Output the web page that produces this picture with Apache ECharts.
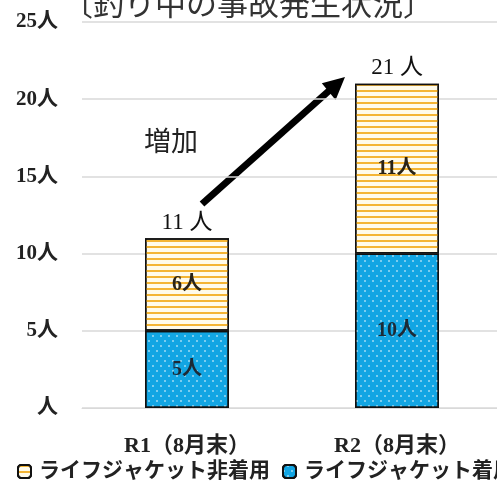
<!DOCTYPE html>
<html>
<head>
<meta charset="utf-8">
<script src="https://cdn.jsdelivr.net/npm/echarts@6/dist/echarts.min.js"></script>
<style>
  html, body { margin: 0; padding: 0; background: #fff; }
  #chart { width: 497px; height: 491px; }
</style>
</head>
<body>
<div id="chart"></div>
<script>
// 釣り中の事故 — ライフジャケット着用/非着用の人数（8月末時点）
const categories = ['R1（8月末）', 'R2（8月末）'];
const notWearing = [6, 11];   // ライフジャケット非着用
const wearing = [5, 10];      // ライフジャケット着用
const yTicks = [0, 5, 10, 15, 20, 25];

const totals = categories.map((_, i) => wearing[i] + notWearing[i]);

const serif = '"Liberation Serif", "DejaVu Serif", "Noto Sans CJK JP", serif';
const gothic = '"Noto Sans CJK JP", sans-serif';

const chart = echarts.init(document.getElementById('chart'), null, { renderer: 'canvas' });

chart.setOption({
  animation: false,
  backgroundColor: '#fff',
  title: {
    text: '〔釣り中の事故発生状況〕',
    left: 57,
    top: -17,
    textStyle: { fontFamily: gothic, fontSize: 31, fontWeight: 'normal', color: '#333' }
  },
  grid: { left: 82, top: 22, width: 420, height: 386, containLabel: false, outerBoundsMode: 'none' },
  legend: {
    data: ['ライフジャケット非着用', 'ライフジャケット着用'],
    left: 17,
    top: 461,
    width: 800,
    padding: 0,
    itemWidth: 13,
    itemHeight: 13,
    itemGap: 12,
    textStyle: { fontFamily: serif, fontSize: 21, fontWeight: 'bold', color: '#222', padding: [0, 0, 0, 3] }
  },
  xAxis: {
    type: 'category',
    data: categories,
    axisLine: { show: true, lineStyle: { color: '#d9d9d9', width: 1 } },
    axisTick: { show: false },
    axisLabel: { margin: 27, fontFamily: serif, fontSize: 22, fontWeight: 'bold', color: '#222' }
  },
  yAxis: {
    type: 'value',
    min: yTicks[0],
    max: yTicks[yTicks.length - 1],
    interval: 5,
    axisLine: { show: false },
    axisTick: { show: false },
    splitLine: { lineStyle: { color: '#d9d9d9', width: 1.5 } },
    axisLabel: {
      margin: 24,
      fontFamily: serif,
      fontSize: 21,
      fontWeight: 'bold',
      color: '#222',
      formatter: v => (v === 0 ? '' : v) + '人'
    }
  },
  series: [
    {
      name: 'ライフジャケット着用',
      type: 'bar',
      stack: 'total',
      barWidth: '40%',
      data: wearing,
      itemStyle: {
        color: '#12a5e3',
        borderColor: '#111',
        borderWidth: 1.5,
        decal: {
          symbol: 'circle',
          symbolSize: 1,
          dashArrayX: [[1.5, 5.5], [0, 3.5, 1.5, 2]],
          dashArrayY: [1.5, 2.5],
          color: 'rgba(255,255,255,0.6)'
        }
      },
      label: {
        show: true,
        position: 'inside',
        formatter: p => p.value + '人',
        fontFamily: serif,
        fontSize: 20,
        fontWeight: 'bold',
        color: '#1d2a36'
      }
    },
    {
      name: 'ライフジャケット非着用',
      type: 'bar',
      stack: 'total',
      barWidth: '40%',
      data: notWearing,
      itemStyle: {
        color: '#fffbea',
        borderColor: '#111',
        borderWidth: 1.5,
        decal: {
          symbol: 'rect',
          symbolSize: 1,
          dashArrayX: [1, 0],
          dashArrayY: [1.8, 3.2],
          color: '#f4b534'
        }
      },
      label: {
        show: true,
        position: 'inside',
        formatter: p => p.value + '人',
        fontFamily: serif,
        fontSize: 20,
        fontWeight: 'bold',
        color: '#2a2418'
      }
    },
    {
      name: '合計',
      type: 'scatter',
      data: totals,
      symbolSize: 0,
      silent: true,
      itemStyle: { opacity: 1 },
      label: {
        show: true,
        position: 'top',
        distance: 4,
        formatter: p => p.value + ' 人',
        fontFamily: serif,
        fontSize: 23,
        color: '#111'
      }
    }
  ],
  graphic: [
    {
      type: 'text',
      left: 144,
      top: 127,
      style: { text: '増加', fontFamily: gothic, fontSize: 27, fill: '#222' }
    },
    {
      type: 'line',
      shape: { x1: 202, y1: 204, x2: 331, y2: 89 },
      style: { stroke: '#000', lineWidth: 7 }
    },
    {
      type: 'polygon',
      shape: { points: [[345, 77], [335.6, 100.1], [321.8, 83.3]] },
      style: { fill: '#000' }
    }
  ]
});
</script>
</body>
</html>
